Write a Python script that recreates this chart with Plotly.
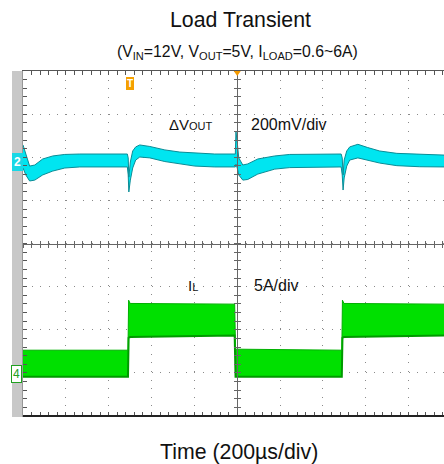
import plotly.graph_objects as go

# ---- data (time in µs, 200 µs/div; ΔVout in mV, 200 mV/div; IL in A, 5 A/div)
t_v = [-1000, -987, -969, -945, -908, -861, -805, -735, -513, -509, -506, -499, -488, -474,
       -455, -408, -338, -268, -198, -105, -9, -6, 0, 7, 26, 49, 96, 175, 245, 485, 490,
       494, 499, 511, 525, 563, 609, 665, 745, 852, 965]
v_up = [79, 33, -19, -14, 14, 28, 35, 37, 37, 19, -70, 0, 51, 70,
        79, 72, 56, 46, 42, 37, 37, 141, 90, 19, -14, -9, 14, 28, 35, 37, 19,
        -60, 9, 51, 70, 82, 67, 51, 40, 35, 32]
v_lo = [-28, -60, -88, -84, -60, -42, -28, -23, -23, -60, -139, -84, -28, 9,
        23, 19, 2, -9, -19, -23, -23, -10, -28, -60, -84, -81, -56, -33, -26, -23, -60,
        -130, -74, -19, 9, 19, 9, -5, -17, -22, -23]

t_i = [-1000, -510, -507, -500, -12, -8, 488, 491, 498, 965]
i_up = [2.78, 2.78, 8.58, 8.2, 8.12, 2.9, 2.78, 8.58, 8.2, 8.12]
i_lo = [-0.31, -0.29, 4.2, 4.3, 4.47, -0.31, -0.29, 4.2, 4.3, 4.47]

# channel scales (per division) and channel zero positions (in divisions from centre)
V_PER_DIV, V_ZERO = 200.0, 1.89
I_PER_DIV, I_ZERO = 5.0, -3.03

def vdiv(vals):
    return [v / V_PER_DIV + V_ZERO for v in vals]

def idiv(vals):
    return [v / I_PER_DIV + I_ZERO for v in vals]

X_RANGE = [-1000, 965]
CYAN_FILL, CYAN_EDGE = "#00E5F0", "#0A8C96"
GREEN_FILL, GREEN_EDGE = "#00E000", "#009A00"

fig = go.Figure()
fig.add_trace(go.Scatter(x=t_i, y=idiv(i_lo), mode="lines", line=dict(color=GREEN_EDGE, width=2),
                         showlegend=False, hoverinfo="skip"))
fig.add_trace(go.Scatter(x=t_i, y=idiv(i_up), mode="lines", line=dict(color="#00B000", width=1),
                         fill="tonexty", fillcolor=GREEN_FILL, showlegend=False, hoverinfo="skip"))
fig.add_trace(go.Scatter(x=t_v, y=vdiv(v_lo), mode="lines", line=dict(color=CYAN_EDGE, width=1),
                         showlegend=False, hoverinfo="skip"))
fig.add_trace(go.Scatter(x=t_v, y=vdiv(v_up), mode="lines", line=dict(color=CYAN_EDGE, width=1),
                         fill="tonexty", fillcolor=CYAN_FILL, showlegend=False, hoverinfo="skip"))
for xa, ya in [("x2", "y"), ("x3", "y"), ("x4", "y"), ("x", "y2"), ("x", "y3"), ("x", "y4")]:
    fig.add_trace(go.Scatter(x=[0], y=[0], xaxis=xa, yaxis=ya, mode="markers",
                             marker=dict(size=1, opacity=0), showlegend=False, hoverinfo="skip"))

GRID = "#8a8a8a"
LINE = "#555555"

def tick_axis(kind, ticks, position=None, color="#666", ln=3, mirror=False):
    d = dict(overlaying=kind, showline=True, linecolor=color, linewidth=1, ticks=ticks,
             ticklen=ln, tickcolor=color, showticklabels=False, showgrid=False,
             zeroline=False, tick0=0, mirror=mirror)
    if position is not None:
        d.update(anchor="free", position=position)
    if kind == "x":
        d.update(range=X_RANGE, dtick=40)
    else:
        d.update(range=[-4, 4], dtick=0.2)
    return d

fig.update_layout(
    width=444, height=464,
    margin=dict(l=23, r=0, t=71, b=48),
    paper_bgcolor="white", plot_bgcolor="white",
    font=dict(family="Liberation Sans, Arial, sans-serif", color="#111"),
    xaxis=dict(range=X_RANGE, dtick=200, tick0=0, showgrid=True, gridcolor=GRID,
               griddash="1px,7.57px", zeroline=False, showticklabels=False,
               showline=True, linecolor=LINE, mirror=True, ticks=""),
    yaxis=dict(range=[-4, 4], dtick=1, tick0=0, showgrid=True, gridcolor=GRID,
               griddash="1px,7.57px", zeroline=False, showticklabels=False,
               showline=True, linecolor=LINE, ticks=""),
    # centre crosshair with ticks on both sides
    xaxis2=tick_axis("x", "outside", 0.5),
    xaxis3=tick_axis("x", "inside", 0.5),
    yaxis2=tick_axis("y", "outside", 0.5095),
    yaxis3=tick_axis("y", "inside", 0.5095),
    # frame ticks (inward)
    xaxis4=tick_axis("x", "inside", color=LINE, ln=4, mirror="ticks"),
    yaxis4=tick_axis("y", "inside", color=LINE, ln=4),
)

shapes = [
    dict(type="rect", xref="paper", yref="paper", x0=-0.0261, x1=-0.001, y0=-0.003, y1=1,
         fillcolor="#C8C8C8", line=dict(width=0), layer="above"),
    dict(type="line", xref="paper", yref="paper", x0=0, x1=1, y0=0, y1=0,
         line=dict(color="#222", width=2), layer="above"),
    dict(type="path", xref="x", xanchor=0, xsizemode="pixel", yref="paper", yanchor=1,
         ysizemode="pixel", path="M -3.5 0 L 3.5 0 L 0 -5 Z",
         fillcolor="#F59A00", line=dict(width=0), layer="above"),
]
fig.update_layout(shapes=shapes)

def px_x(p):
    return (p - 23) / 421.0

def px_y(p):
    return (416 - p) / 345.0

ann = [
    dict(text="Load Transient", x=px_x(241), y=px_y(20), font=dict(size=21.3)),
    dict(text="(V<sub>IN</sub>=12V, V<sub>OUT</sub>=5V, I<sub>LOAD</sub>=0.6~6A)",
         x=px_x(237.5), y=px_y(52), font=dict(size=15.8)),
    dict(text="Time (200µs/div)", x=px_x(239), y=px_y(452), font=dict(size=21.3)),
    dict(text="ΔV<span style='font-size:11px'>OUT</span>", x=px_x(167), y=px_y(124),
         xanchor="left", font=dict(size=15)),
    dict(text="200mV/div", x=px_x(249), y=px_y(124), xanchor="left", font=dict(size=16)),
    dict(text="I<span style='font-size:11px'>L</span>", x=px_x(186), y=px_y(285),
         xanchor="left", font=dict(size=15)),
    dict(text="5A/div", x=px_x(252), y=px_y(285), xanchor="left", font=dict(size=16)),
    dict(text="<b>2</b>", x=px_x(22.5), y=px_y(162), xanchor="right", bgcolor="#18D8E6",
         bordercolor="#18D8E6", borderpad=1, borderwidth=1, font=dict(size=12, color="white")),
    dict(text="4", x=px_x(22), y=px_y(374), xanchor="right", bgcolor="white",
         bordercolor="#20A020", borderpad=1, borderwidth=1, font=dict(size=12, color="#20A020")),
    dict(text="<b>T</b>", x=px_x(129.5), y=px_y(84), bgcolor="#F5A000",
         bordercolor="#F5A000", borderpad=0, borderwidth=1, font=dict(size=10, color="white")),
]
for a in ann:
    a.setdefault("xanchor", "center")
    fig.add_annotation(xref="paper", yref="paper", showarrow=False, yanchor="middle", **a)

fig.write_html("out.html")
